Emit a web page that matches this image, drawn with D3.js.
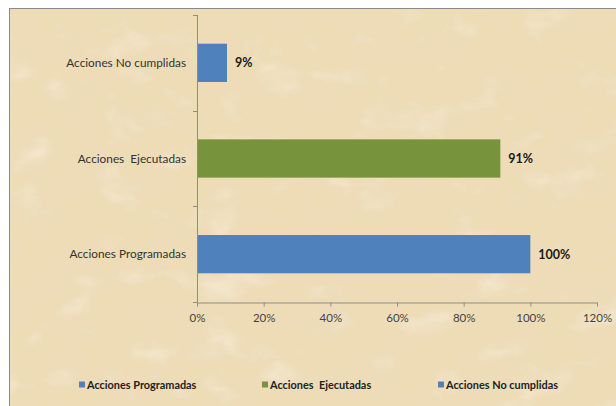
<!DOCTYPE html>
<html><head><meta charset="utf-8">
<script src="https://cdn.jsdelivr.net/npm/d3@7"></script>
<style>
html,body{margin:0;padding:0;background:#fff;}
svg text{white-space:pre;}
</style></head>
<body>
<div id="chart"></div>
<script>
const categories = ["Acciones No cumplidas", "Acciones  Ejecutadas", "Acciones Programadas"];
const values = [0.09, 0.91, 1.00];
const valueLabels = ["9%", "91%", "100%"];
const barColors = ["#4F81BD", "#77933C", "#4F81BD"];
const xTicks = [0, 0.2, 0.4, 0.6, 0.8, 1.0, 1.2];
const legendLabels = ["Acciones Programadas", "Acciones  Ejecutadas", "Acciones No cumplidas"];
const legendColors = ["#4F81BD", "#77933C", "#4F81BD"];

const W = 616, H = 406;
const svg = d3.select("#chart").append("svg").attr("width", W).attr("height", H);

// parchment texture
const defs = svg.append("defs");
const f = defs.append("filter").attr("id","parch").attr("x",0).attr("y",0).attr("width","100%").attr("height","100%");
f.append("feTurbulence").attr("type","fractalNoise").attr("baseFrequency","0.02 0.03").attr("numOctaves",5).attr("seed",11).attr("result","n");
// dark tan patches
f.append("feColorMatrix").attr("in","n").attr("type","matrix")
 .attr("values","0 0 0 0 0.85  0 0 0 0 0.72  0 0 0 0 0.49  1.8 0 0 0 -0.8").attr("result","dark");
// light patches
f.append("feColorMatrix").attr("in","n").attr("type","matrix")
 .attr("values","0 0 0 0 0.96  0 0 0 0 0.91  0 0 0 0 0.80  0 -1.4 0 0 0.6").attr("result","light");
f.append("feMerge").selectAll("feMergeNode").data(["SourceGraphic","light","dark"]).enter().append("feMergeNode").attr("in",d=>d);
f.append("feComposite").attr("in2","SourceGraphic").attr("operator","in");

svg.append("rect").attr("x",9.5).attr("y",8.5).attr("width",W).attr("height",H)
  .attr("fill","#EEDCB7").attr("filter","url(#parch)");
svg.append("rect").attr("x",9.5).attr("y",8.5).attr("width",W).attr("height",H)
  .attr("fill","none").attr("stroke","#8a8a8a").attr("stroke-width",1);

const x = d3.scaleLinear().domain([0,1.2]).range([197,597]);
const y = d3.scaleBand().domain(categories).range([15,302]).paddingInner(0.6).paddingOuter(0.3);

// bars
svg.selectAll("rect.bar").data(categories).enter().append("rect")
  .attr("class","bar")
  .attr("x", x(0)).attr("y", d=>y(d))
  .attr("width", (d,i)=>x(values[i])-x(0)).attr("height", y.bandwidth())
  .attr("fill", (d,i)=>barColors[i]);

// value labels
svg.selectAll("text.val").data(categories).enter().append("text")
  .attr("x",(d,i)=>x(values[i])+8).attr("y",d=>y(d)+y.bandwidth()/2)
  .attr("dy","0.35em").attr("font-family","Lato, 'Open Sans', sans-serif")
  .attr("font-size",12.5).attr("font-weight","bold").attr("fill","#1a1a1a")
  .text((d,i)=>valueLabels[i]);

// y axis
const axisColor = "#8c8c8c";
const step = y.step();
svg.append("line").attr("x1",197.5).attr("x2",197.5).attr("y1",15).attr("y2",302).attr("stroke",axisColor);
const bounds = [15, 15+step, 15+2*step, 302];
svg.selectAll("line.yt").data(bounds).enter().append("line")
  .attr("x1",193).attr("x2",197.5).attr("y1",d=>Math.round(d)+0.5).attr("y2",d=>Math.round(d)+0.5).attr("stroke",axisColor);
svg.selectAll("text.cat").data(categories).enter().append("text")
  .attr("x",186).attr("y",d=>y(d)+y.bandwidth()/2).attr("dy","0.35em")
  .attr("text-anchor","end").attr("font-family","Lato, 'Open Sans', sans-serif")
  .attr("font-size",11.8).attr("fill","#333").text(d=>d);

// x axis
const xAxis = d3.axisBottom(x).tickValues(xTicks).tickFormat(d3.format(".0%")).tickSize(4).tickSizeOuter(0);
const gx = svg.append("g").attr("transform","translate(0,302.5)").call(xAxis);
gx.select(".domain").attr("stroke",axisColor);
gx.selectAll(".tick line").attr("stroke",axisColor);
gx.selectAll(".tick text").attr("y",11).attr("font-family","Lato, 'Open Sans', sans-serif")
  .attr("font-size",11.5).attr("fill","#444");

// legend
const legX = [79, 262, 438];
const lg = svg.selectAll("g.leg").data(legendLabels).enter().append("g")
  .attr("transform",(d,i)=>`translate(${legX[i]},385)`);
lg.append("rect").attr("x",0).attr("y",-3.5).attr("width",6).attr("height",6).attr("fill",(d,i)=>legendColors[i]);
lg.append("text").attr("x",8).attr("y",0).attr("dy","0.35em")
  .attr("font-family","Lato, 'Open Sans', sans-serif").attr("font-size",10.9).attr("font-weight","bold")
  .attr("fill","#222").text(d=>d);
</script>
</body></html>
